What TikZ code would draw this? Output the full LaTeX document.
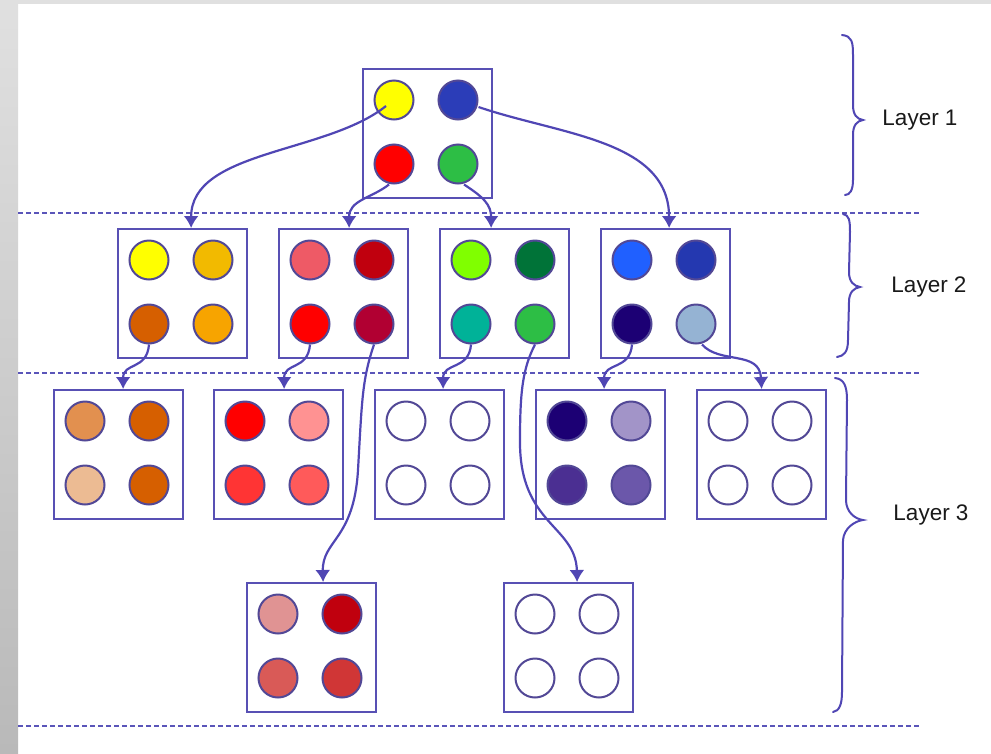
\documentclass[tikz,border=0pt]{standalone}
\usepackage{fontspec}
\setmainfont{Liberation Sans}
\usetikzlibrary{arrows.meta,calc}
\definecolor{boxc}{RGB}{88,80,180}
\definecolor{dotc}{RGB}{82,72,150}
\definecolor{linkc}{RGB}{80,70,180}
\definecolor{sepc}{RGB}{90,85,185}
\definecolor{graytop}{HTML}{E0E0E0}
\definecolor{graybot}{HTML}{B9B9B9}
% circle fills
\definecolor{cY}{HTML}{FFFF00}
\definecolor{cB}{HTML}{2B3DB8}
\definecolor{cR}{HTML}{FF0000}
\definecolor{cG}{HTML}{2DBE45}
\definecolor{cAmber}{HTML}{F2BA00}
\definecolor{cDkOr}{HTML}{D65F00}
\definecolor{cOr}{HTML}{F7A400}
\definecolor{cSalmon}{HTML}{EE5A66}
\definecolor{cDkRed}{HTML}{C0000E}
\definecolor{cCrim}{HTML}{B10032}
\definecolor{cLime}{HTML}{80FF00}
\definecolor{cDkGr}{HTML}{007338}
\definecolor{cTeal}{HTML}{00B298}
\definecolor{cBlue}{HTML}{2060FF}
\definecolor{cBlue2}{HTML}{2438B0}
\definecolor{cNavy}{HTML}{1C0074}
\definecolor{cSteel}{HTML}{95B3D3}
\definecolor{cLtOr}{HTML}{E2904F}
\definecolor{cPeach}{HTML}{ECBB93}
\definecolor{cPink}{HTML}{FF9292}
\definecolor{cRed2}{HTML}{FF3434}
\definecolor{cRed3}{HTML}{FF5A5A}
\definecolor{cLav}{HTML}{A294C8}
\definecolor{cPur}{HTML}{4B2F92}
\definecolor{cPur2}{HTML}{6B57AA}
\definecolor{cDusty}{HTML}{E09393}
\definecolor{cRed4}{HTML}{D95A57}
\definecolor{cRed5}{HTML}{D03636}
\newcommand\quadbox[7]{%
  \node[cellbox, anchor=north west] (#1) at (#2,#3) {};
  \node[dot, fill=#4] (#1-1) at ($(#1.north west)+(32,32)$) {};
  \node[dot, fill=#5] (#1-2) at ($(#1.north west)+(96,32)$) {};
  \node[dot, fill=#6] (#1-3) at ($(#1.north west)+(32,96)$) {};
  \node[dot, fill=#7] (#1-4) at ($(#1.north west)+(96,96)$) {};
}
\begin{document}
\begin{tikzpicture}[x=1pt,y=-1pt,
  cellbox/.style={draw=boxc, line width=2.2pt, minimum size=129pt, inner sep=0pt, fill=white},
  dot/.style={circle, draw=dotc, line width=2pt, minimum size=39pt, inner sep=0pt},
  link/.style={draw=linkc, line width=2.2pt, -{Latex[length=12pt,width=15pt]}},
  sep/.style={draw=sepc, line width=1.5pt, dash pattern=on 5pt off 3pt},
  brc/.style={draw=linkc, line width=2pt, line cap=round},
  lbl/.style={font=\fontsize{22.5}{26}\selectfont, text=black!90}]
\useasboundingbox (0,0) rectangle (991,753);
% background frame
\fill[white] (0,0) rectangle (991,753);
\fill[graytop] (0,0) rectangle (991,4);
\shade[top color=graytop, bottom color=graybot] (0,0) rectangle (18,753);

% layer separators
\draw[sep] (18,213) -- (920,213);
\draw[sep] (18,373) -- (920,373);
\draw[sep] (18,726) -- (920,726);

% boxes
\quadbox{T}{362}{68}{cY}{cB}{cR}{cG}
\quadbox{Ba}{117}{228}{cY}{cAmber}{cDkOr}{cOr}
\quadbox{Bb}{278}{228}{cSalmon}{cDkRed}{cR}{cCrim}
\quadbox{Bc}{439}{228}{cLime}{cDkGr}{cTeal}{cG}
\quadbox{Bd}{600}{228}{cBlue}{cBlue2}{cNavy}{cSteel}
\quadbox{Ca}{53}{389}{cLtOr}{cDkOr}{cPeach}{cDkOr}
\quadbox{Cb}{213}{389}{cR}{cPink}{cRed2}{cRed3}
\quadbox{Cc}{374}{389}{white}{white}{white}{white}
\quadbox{Cd}{535}{389}{cNavy}{cLav}{cPur}{cPur2}
\quadbox{Ce}{696}{389}{white}{white}{white}{white}
\quadbox{Da}{246}{582}{cDusty}{cDkRed}{cRed4}{cRed5}
\quadbox{Db}{503}{582}{white}{white}{white}{white}

% connectors layer 1 -> 2
\draw[link] ([shift={(-8,6)}]T-1.center) .. controls +(-60,48) and +(0,-78) .. ([xshift=8.5pt]Ba.north);
\draw[link] ([xshift=-5pt]T-3.south) .. controls +(-18,14) and +(0,-28) .. ([xshift=5.5pt]Bb.north);
\draw[link] ([xshift=6pt]T-4.south) .. controls +(20,13) and +(0,-23) .. ([xshift=-13.5pt]Bc.north);
\draw[link] ([shift={(0,7)}]T-2.east) .. controls +(82,28) and +(0,-88) .. ([xshift=3.5pt]Bd.north);

% connectors layer 2 -> 3
\draw[link] (Ba-3.south) .. controls +(-2,26) and +(0,-27) .. ([xshift=4.5pt]Ca.north);
\draw[link] (Bb-3.south) .. controls +(-2,26) and +(0,-27) .. ([xshift=5.5pt]Cb.north);
\draw[link] (Bc-3.south) .. controls +(-2,26) and +(0,-27) .. ([xshift=3.5pt]Cc.north);
\draw[link] (Bd-3.south) .. controls +(-2,26) and +(0,-27) .. ([xshift=3.5pt]Cd.north);
\draw[link] ([xshift=6pt]Bd-4.south) .. controls +(18,20) and +(-2,-39) .. (Ce.north);
\draw[link] (Bb-4.south) .. controls (362,380) and (362,400) .. (358,470)
  .. controls (354,540) and (322,540) .. ([xshift=11.5pt]Da.north);
\draw[link] (Bc-4.south) .. controls (523,368) and (520,390) .. (520,440)
  .. controls (519,525) and (576,525) .. ([xshift=8.5pt]Db.north);

% braces
\draw[brc] (842,35) .. controls (852,36) and (853,42) .. (853,55) -- (853,105)
  .. controls (853,115) and (857,119) .. (863,120)
  .. controls (857,121) and (853,125) .. (853,135) -- (853,180)
  .. controls (853,190) and (850,195) .. (845,195);
\draw[brc] (843,214) .. controls (849,215) and (850,220) .. (850,232) -- (849,272)
  .. controls (849,282) and (854,286) .. (860,287)
  .. controls (854,288) and (849,292) .. (849,302) -- (848,340)
  .. controls (848,352) and (844,356) .. (837,357);
\draw[brc] (835,378) .. controls (844,379) and (847,386) .. (847,400) -- (846,500)
  .. controls (846,512) and (855,519) .. (863,520)
  .. controls (855,521) and (844,528) .. (843,540) -- (842,692)
  .. controls (842,705) and (839,711) .. (833,712);

% labels
\node[lbl] (l1) at (920,120) {Layer 1};
\node[lbl] (l2) at (929,287) {Layer 2};
\node[lbl] (l3) at (931,515) {Layer 3};
\end{tikzpicture}
\end{document}
